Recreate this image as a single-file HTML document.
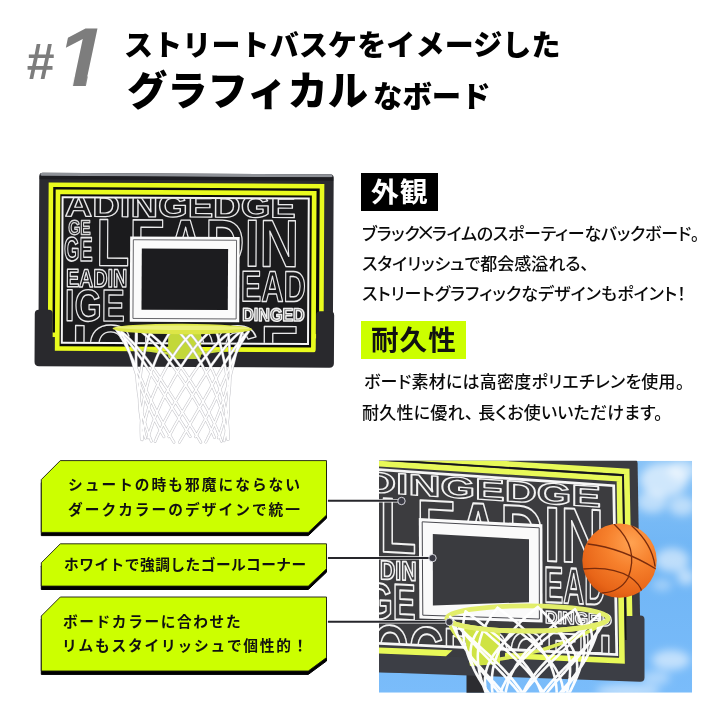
<!DOCTYPE html>
<html lang="ja">
<head>
<meta charset="utf-8">
<title>#1 ストリートバスケをイメージしたグラフィカルなボード</title>
<style>
html,body{margin:0;padding:0;background:#fff;}
body{width:720px;height:720px;position:relative;overflow:hidden;font-family:"Liberation Sans","Noto Sans CJK JP",sans-serif;color:#111;}
.abs{will-change:transform;position:absolute;white-space:nowrap;line-height:1;}
#gfx{will-change:transform;position:absolute;left:0;top:0;width:720px;height:720px;}
.num{font-family:"Liberation Sans",sans-serif;font-weight:700;font-style:italic;color:#7d7d7d;}
.h1{font-weight:900;color:#000;}
.tag{font-weight:700;font-size:27px;letter-spacing:1px;}
.body{font-weight:500;font-size:17px;color:#0a0a0a;font-feature-settings:"palt";}
.cj{font-family:"Noto Sans CJK JP",sans-serif;}
.lab{font-weight:700;font-size:14.7px;color:#111;letter-spacing:1.4px;}
</style>
</head>
<body>
<svg id="gfx" viewBox="0 0 720 720" width="720" height="720">
<defs><clipPath id="panelclip"><rect x="63.2" y="198.3" width="244.2" height="144.1"/></clipPath><clipPath id="photoclip"><rect x="379.0" y="460.8" width="313.1" height="231.90000000000003"/></clipPath><linearGradient id="sky" x1="0" y1="0" x2="0" y2="1"><stop offset="0" stop-color="#86c2f7"/><stop offset="0.4" stop-color="#6fb5f5"/><stop offset="1" stop-color="#7abcfa"/></linearGradient><radialGradient id="ball" cx="0.66" cy="0.26" r="0.85"><stop offset="0" stop-color="#ffa251"/><stop offset="0.4" stop-color="#f6802c"/><stop offset="0.8" stop-color="#e86518"/><stop offset="1" stop-color="#cf4f0c"/></radialGradient><filter id="blur3" x="-30%" y="-30%" width="160%" height="160%"><feGaussianBlur stdDeviation="4"/></filter><clipPath id="ballclip"><circle cx="619.5" cy="560.6" r="37.2"/></clipPath><clipPath id="pboard"><polygon points="379,471 612.5,486.5 616.5,654.5 379,643.5"/></clipPath></defs>
<g id="board" transform="rotate(0.3 186 270)">
<rect x="38.8" y="173.6" width="294.4" height="185" rx="3.5" fill="#2b2b30"/>
<rect x="40" y="173.6" width="292" height="3.2" rx="1.6" fill="#8f9298"/>
<rect x="39.2" y="176.6" width="293.6" height="3.5" fill="#1d1d21"/>
<rect x="50.5" y="185.5" width="271.1" height="150" fill="#0b0b0c" stroke="#e9fb1e" stroke-width="4.6"/>
<rect x="57.6" y="192.6" width="256.2" height="156.6" fill="#0b0b0c" stroke="#e9fb1e" stroke-width="4.7"/>
<rect x="62.2" y="197.8" width="246.2" height="145.6" fill="#1b1b1d" stroke="#f4f4f4" stroke-width="2"/>
<g clip-path="url(#panelclip)" font-family="'Liberation Sans',sans-serif" font-weight="700" stroke-linejoin="round">
<text transform="translate(64.50,217.00) scale(1.1929,1)" font-size="31.98" fill="none" stroke="#e9e9ea" stroke-width="1.3" vector-effect="non-scaling-stroke" >ADINGEDGE</text>
<text transform="translate(68.00,235.00) scale(0.7652,1)" font-size="20.35" fill="none" stroke="#d8d8d8" stroke-width="1.3" vector-effect="non-scaling-stroke" >GE</text>
<text transform="translate(96.00,266.00) scale(0.8157,1)" font-size="66.86" fill="none" stroke="#e9e9ea" stroke-width="1.3" vector-effect="non-scaling-stroke" >LEADIN</text>
<text transform="translate(64.00,261.50) scale(0.5774,1)" font-size="34.16" fill="none" stroke="#e9e9ea" stroke-width="1.3" vector-effect="non-scaling-stroke" >GE</text>
<text transform="translate(66.00,287.50) scale(0.7772,1)" font-size="25.44" fill="none" stroke="#e9e9ea" stroke-width="1.3" vector-effect="non-scaling-stroke" >EADIN</text>
<text transform="translate(241.00,301.00) scale(0.7061,1)" font-size="43.60" fill="none" stroke="#e9e9ea" stroke-width="1.3" vector-effect="non-scaling-stroke" >EAD</text>
<text transform="translate(65.00,321.50) scale(0.7728,1)" font-size="45.06" fill="none" stroke="#e9e9ea" stroke-width="1.3" vector-effect="non-scaling-stroke" >IGE</text>
<text transform="translate(242.50,320.50) scale(0.8845,1)" font-size="18.17" fill="#555" stroke="#f0f0f0" stroke-width="1.5" vector-effect="non-scaling-stroke" >DINGED</text>
<text transform="translate(72.00,368.00) scale(0.9601,1)" font-size="61.05" fill="none" stroke="#e9e9ea" stroke-width="1.3" vector-effect="non-scaling-stroke" >IGEDGE</text>
</g>
<rect x="130" y="236.7" width="109.5" height="85.3" fill="#fbfbfb"/>
<rect x="133.2" y="240" width="103.2" height="78.7" fill="none" stroke="#55555a" stroke-width="0.9"/>
<rect x="141.7" y="248.8" width="86.3" height="61.1" fill="#1c1c1f"/>
<path d="M35 314.5 q0 -4 4 -4 h10 q4 0 4 4 v33.7 q0 4 4 4 h255.4 q4 0 4 -4 v-33.7 q0 -4 4 -4 h10 q4 0 4 4 v48 q0 4.5 -4.5 4.5 h-290.4 q-4.5 0 -4.5 -4.5 z" fill="#29292d"/>
</g>
<g transform="rotate(0.3 186 270)">
<path d="M168.5 331 h33 v24 q0 4 -4 4 h-25 q-4 0 -4 -4 z" fill="#c3d83a"/>
<path d="M172 354 L142 349.5 M197 354 L226 349.5" stroke="#cfe23c" stroke-width="2.6" fill="none"/>
<path d="M248.8 331.2 L246.1 334.0 L243.6 336.9 L241.2 339.7 L238.9 342.6 L236.8 345.4 L234.7 348.3 L232.8 351.1 L230.9 353.9 L229.1 356.8 L227.3 359.6 L225.6 362.4 L223.9 365.2 L222.3 368.0 L220.7 370.8 L219.1 373.7 L217.6 376.5 L216.0 379.3 L214.5 382.0 L212.9 384.8 L211.4 387.6 L209.9 390.4 L208.3 393.2 L206.8 395.9 L205.3 398.7 L203.7 401.5 L202.2 404.2 L200.6 407.0 L199.1 409.7 L197.5 412.5 L195.9 415.2 L194.4 417.9 L192.8 420.7 L191.2 423.4 L189.6 426.1 L188.1 428.8 L186.5 431.6 L184.9 434.3 L183.4 437.0 L181.8 439.7 L180.3 442.4 M248.8 331.2 L247.0 333.8 L245.3 336.4 L243.8 338.9 L242.2 341.5 L240.8 344.1 L239.4 346.7 L238.1 349.3 L236.9 351.9 L235.7 354.5 L234.5 357.1 L233.3 359.7 L232.2 362.3 L231.1 364.9 L229.9 367.5 L228.8 370.1 L227.7 372.8 L226.6 375.4 L225.5 378.0 L224.4 380.6 L223.3 383.3 L222.1 385.9 L221.0 388.5 L219.8 391.2 L218.6 393.8 L217.4 396.5 L216.1 399.1 L214.9 401.8 L213.6 404.4 L212.3 407.1 L210.9 409.8 L209.6 412.4 L208.2 415.1 L206.8 417.8 L205.4 420.5 L203.9 423.2 L202.5 425.9 L201.0 428.6 L199.5 431.3 L198.0 434.0 L196.5 436.7 M228.8 333.1 L225.4 335.9 L222.3 338.7 L219.4 341.5 L216.6 344.3 L214.0 347.1 L211.5 349.9 L209.1 352.6 L206.9 355.4 L204.7 358.2 L202.6 360.9 L200.5 363.7 L198.5 366.4 L196.6 369.2 L194.7 371.9 L192.9 374.6 L191.1 377.4 L189.3 380.1 L187.6 382.8 L185.9 385.5 L184.2 388.2 L182.5 390.9 L180.9 393.6 L179.3 396.3 L177.7 399.0 L176.1 401.7 L174.6 404.4 L173.1 407.1 L171.6 409.8 L170.1 412.4 L168.7 415.1 L167.3 417.8 L165.9 420.4 L164.5 423.1 L163.2 425.7 L161.9 428.4 L160.6 431.0 L159.4 433.7 L158.2 436.3 L157.1 439.0 L156.0 441.6 M228.8 333.1 L229.0 335.7 L229.2 338.4 L229.4 341.0 L229.6 343.6 L229.8 346.2 L229.9 348.8 L230.1 351.4 L230.2 354.0 L230.3 356.6 L230.4 359.2 L230.5 361.8 L230.6 364.4 L230.7 367.0 L230.7 369.6 L230.7 372.2 L230.7 374.8 L230.7 377.4 L230.6 380.0 L230.5 382.6 L230.4 385.2 L230.2 387.8 L230.0 390.4 L229.8 393.0 L229.5 395.6 L229.2 398.2 L228.9 400.8 L228.5 403.5 L228.0 406.1 L227.5 408.7 L227.0 411.3 L226.4 413.9 L225.8 416.6 L225.1 419.2 L224.4 421.8 L223.6 424.4 L222.8 427.1 L222.0 429.7 L221.1 432.4 L220.2 435.0 L219.2 437.7 M191.1 334.1 L188.5 336.8 L186.0 339.5 L183.7 342.2 L181.5 344.9 L179.4 347.6 L177.5 350.3 L175.6 353.0 L173.9 355.7 L172.2 358.4 L170.5 361.1 L169.0 363.7 L167.5 366.4 L166.0 369.1 L164.6 371.7 L163.2 374.4 L161.9 377.0 L160.6 379.7 L159.4 382.3 L158.2 385.0 L157.0 387.6 L155.9 390.3 L154.8 392.9 L153.7 395.5 L152.7 398.2 L151.8 400.8 L150.9 403.4 L150.0 406.0 L149.1 408.7 L148.4 411.3 L147.6 413.9 L146.9 416.5 L146.3 419.1 L145.7 421.7 L145.2 424.4 L144.7 427.0 L144.2 429.6 L143.8 432.2 L143.5 434.8 L143.2 437.4 L143.0 440.0 M191.1 334.1 L193.3 336.8 L195.4 339.4 L197.4 342.1 L199.2 344.8 L200.9 347.5 L202.6 350.1 L204.1 352.8 L205.6 355.4 L207.1 358.1 L208.5 360.7 L209.8 363.4 L211.1 366.0 L212.3 368.7 L213.5 371.3 L214.7 373.9 L215.8 376.6 L216.9 379.2 L217.9 381.8 L218.9 384.4 L219.9 387.1 L220.8 389.7 L221.7 392.3 L222.5 394.9 L223.3 397.5 L224.0 400.1 L224.7 402.8 L225.3 405.4 L225.9 408.0 L226.5 410.6 L227.0 413.2 L227.4 415.8 L227.8 418.4 L228.2 421.0 L228.5 423.6 L228.7 426.2 L228.9 428.9 L229.0 431.5 L229.1 434.1 L229.1 436.7 L229.1 439.3 M150.3 333.7 L149.3 336.3 L148.5 338.9 L147.7 341.6 L147.0 344.2 L146.3 346.8 L145.6 349.5 L145.0 352.1 L144.5 354.7 L143.9 357.3 L143.4 359.9 L143.0 362.5 L142.5 365.2 L142.1 367.8 L141.7 370.4 L141.4 373.0 L141.1 375.6 L140.8 378.2 L140.6 380.8 L140.3 383.4 L140.2 386.0 L140.0 388.6 L140.0 391.2 L139.9 393.8 L139.9 396.4 L139.9 399.0 L140.0 401.6 L140.1 404.2 L140.3 406.8 L140.6 409.4 L140.8 412.1 L141.2 414.7 L141.5 417.3 L142.0 419.9 L142.4 422.5 L143.0 425.1 L143.5 427.8 L144.2 430.4 L144.9 433.0 L145.6 435.6 L146.4 438.3 M150.3 333.7 L153.6 336.4 L156.8 339.2 L159.8 342.0 L162.6 344.7 L165.2 347.5 L167.8 350.2 L170.2 353.0 L172.5 355.7 L174.8 358.4 L176.9 361.1 L179.0 363.9 L181.1 366.6 L183.1 369.3 L185.0 372.0 L186.9 374.7 L188.7 377.4 L190.5 380.1 L192.3 382.8 L194.0 385.5 L195.7 388.1 L197.4 390.8 L199.0 393.5 L200.6 396.2 L202.2 398.8 L203.7 401.5 L205.2 404.1 L206.7 406.8 L208.2 409.4 L209.6 412.1 L210.9 414.7 L212.3 417.4 L213.6 420.0 L214.8 422.6 L216.0 425.3 L217.2 427.9 L218.3 430.5 L219.4 433.2 L220.5 435.8 L221.4 438.4 L222.4 441.0 M121.8 332.0 L123.0 334.6 L124.1 337.2 L125.2 339.8 L126.2 342.4 L127.2 345.0 L128.1 347.6 L129.0 350.2 L129.9 352.8 L130.8 355.4 L131.6 358.0 L132.5 360.6 L133.3 363.2 L134.1 365.8 L134.9 368.4 L135.8 371.0 L136.6 373.6 L137.5 376.2 L138.4 378.8 L139.3 381.4 L140.2 384.0 L141.1 386.6 L142.1 389.2 L143.1 391.9 L144.1 394.5 L145.1 397.1 L146.2 399.7 L147.3 402.4 L148.5 405.0 L149.7 407.7 L150.9 410.3 L152.1 412.9 L153.4 415.6 L154.7 418.3 L156.1 420.9 L157.4 423.6 L158.9 426.3 L160.3 428.9 L161.8 431.6 L163.3 434.3 L164.8 437.0 M121.8 332.0 L125.1 334.9 L128.1 337.7 L131.0 340.5 L133.8 343.4 L136.4 346.2 L138.9 349.0 L141.2 351.8 L143.5 354.6 L145.7 357.4 L147.9 360.2 L150.0 363.0 L152.0 365.8 L154.0 368.6 L156.0 371.4 L157.9 374.2 L159.8 377.0 L161.6 379.7 L163.5 382.5 L165.3 385.3 L167.2 388.0 L169.0 390.8 L170.8 393.5 L172.6 396.3 L174.4 399.0 L176.1 401.7 L177.9 404.4 L179.7 407.2 L181.4 409.9 L183.2 412.6 L184.9 415.3 L186.7 418.0 L188.4 420.7 L190.1 423.4 L191.8 426.1 L193.5 428.8 L195.2 431.5 L196.8 434.2 L198.5 436.8 L200.1 439.5 L201.7 442.2 M116.6 329.8 L119.4 332.4 L122.1 335.0 L124.7 337.6 L127.1 340.2 L129.4 342.8 L131.6 345.4 L133.7 348.1 L135.7 350.7 L137.7 353.3 L139.6 355.9 L141.5 358.5 L143.3 361.2 L145.0 363.8 L146.8 366.5 L148.5 369.1 L150.2 371.7 L151.9 374.4 L153.6 377.1 L155.3 379.7 L157.0 382.4 L158.7 385.0 L160.4 387.7 L162.0 390.4 L163.7 393.1 L165.4 395.8 L167.1 398.5 L168.8 401.2 L170.5 403.9 L172.2 406.6 L174.0 409.3 L175.7 412.0 L177.4 414.7 L179.1 417.4 L180.9 420.2 L182.6 422.9 L184.3 425.6 L186.0 428.4 L187.7 431.1 L189.4 433.9 L191.1 436.6 M116.6 329.8 L118.5 332.7 L120.4 335.5 L122.1 338.4 L123.8 341.3 L125.3 344.1 L126.9 347.0 L128.3 349.8 L129.7 352.7 L131.1 355.5 L132.4 358.4 L133.7 361.2 L135.0 364.1 L136.3 366.9 L137.6 369.8 L138.8 372.6 L140.1 375.4 L141.3 378.3 L142.6 381.1 L143.8 383.9 L145.1 386.7 L146.4 389.6 L147.7 392.4 L149.1 395.2 L150.4 398.0 L151.8 400.8 L153.2 403.6 L154.6 406.4 L156.0 409.2 L157.5 411.9 L159.0 414.7 L160.5 417.5 L162.0 420.3 L163.5 423.0 L165.1 425.8 L166.7 428.6 L168.3 431.3 L169.9 434.1 L171.6 436.8 L173.2 439.6 L174.9 442.3 M136.6 327.9 L140.1 330.5 L143.4 333.2 L146.5 335.8 L149.4 338.5 L152.1 341.2 L154.8 343.8 L157.3 346.5 L159.7 349.2 L162.1 351.9 L164.3 354.6 L166.5 357.3 L168.7 360.0 L170.7 362.7 L172.8 365.4 L174.8 368.1 L176.7 370.8 L178.6 373.6 L180.5 376.3 L182.4 379.0 L184.2 381.8 L186.0 384.5 L187.8 387.3 L189.6 390.0 L191.3 392.8 L193.0 395.5 L194.7 398.3 L196.4 401.1 L198.0 403.8 L199.6 406.6 L201.2 409.4 L202.8 412.2 L204.3 415.0 L205.8 417.8 L207.3 420.6 L208.8 423.4 L210.2 426.2 L211.5 429.0 L212.9 431.8 L214.2 434.6 L215.4 437.4 M136.6 327.9 L136.5 330.7 L136.5 333.5 L136.4 336.4 L136.4 339.2 L136.4 342.1 L136.4 344.9 L136.4 347.8 L136.4 350.6 L136.4 353.4 L136.5 356.3 L136.5 359.1 L136.6 362.0 L136.7 364.8 L136.8 367.7 L136.9 370.5 L137.1 373.4 L137.3 376.2 L137.5 379.1 L137.7 381.9 L138.0 384.8 L138.3 387.6 L138.7 390.5 L139.0 393.3 L139.5 396.2 L139.9 399.0 L140.4 401.9 L141.0 404.7 L141.6 407.5 L142.2 410.4 L142.9 413.2 L143.6 416.0 L144.4 418.8 L145.2 421.7 L146.1 424.5 L147.0 427.3 L148.0 430.1 L149.0 432.9 L150.0 435.7 L151.1 438.5 L152.2 441.3 M174.3 326.9 L177.1 329.7 L179.7 332.4 L182.2 335.1 L184.5 337.9 L186.7 340.6 L188.8 343.4 L190.8 346.1 L192.7 348.9 L194.6 351.7 L196.4 354.4 L198.1 357.2 L199.7 360.0 L201.4 362.8 L202.9 365.6 L204.4 368.4 L205.9 371.2 L207.3 374.0 L208.7 376.8 L210.1 379.6 L211.4 382.4 L212.7 385.2 L213.9 388.0 L215.1 390.8 L216.3 393.6 L217.4 396.5 L218.4 399.3 L219.5 402.1 L220.5 404.9 L221.4 407.8 L222.3 410.6 L223.1 413.4 L223.9 416.3 L224.7 419.1 L225.3 421.9 L226.0 424.8 L226.6 427.6 L227.1 430.5 L227.6 433.3 L228.0 436.1 L228.4 439.0 M174.3 326.9 L172.2 329.7 L170.3 332.5 L168.5 335.2 L166.8 338.0 L165.2 340.8 L163.7 343.6 L162.3 346.4 L161.0 349.2 L159.7 352.0 L158.4 354.8 L157.2 357.6 L156.1 360.4 L155.0 363.2 L154.0 366.0 L153.0 368.8 L152.0 371.6 L151.1 374.5 L150.2 377.3 L149.3 380.1 L148.5 382.9 L147.8 385.8 L147.0 388.6 L146.4 391.4 L145.7 394.3 L145.1 397.1 L144.6 399.9 L144.1 402.8 L143.7 405.6 L143.3 408.5 L142.9 411.3 L142.6 414.1 L142.4 417.0 L142.2 419.8 L142.0 422.7 L141.9 425.5 L141.9 428.3 L141.9 431.2 L142.0 434.0 L142.1 436.8 L142.3 439.7 M215.1 327.3 L216.2 330.2 L217.2 333.0 L218.2 335.8 L219.0 338.6 L219.9 341.4 L220.7 344.2 L221.4 347.1 L222.1 349.9 L222.8 352.7 L223.5 355.6 L224.1 358.4 L224.7 361.2 L225.2 364.1 L225.8 366.9 L226.3 369.8 L226.7 372.6 L227.1 375.5 L227.5 378.3 L227.9 381.2 L228.2 384.0 L228.5 386.8 L228.7 389.7 L228.9 392.5 L229.1 395.4 L229.2 398.2 L229.3 401.1 L229.3 403.9 L229.3 406.8 L229.2 409.6 L229.1 412.4 L228.9 415.3 L228.7 418.1 L228.4 421.0 L228.1 423.8 L227.7 426.6 L227.3 429.4 L226.8 432.3 L226.2 435.1 L225.6 437.9 L225.0 440.7 M215.1 327.3 L211.9 330.0 L208.9 332.7 L206.1 335.4 L203.4 338.1 L200.9 340.8 L198.5 343.5 L196.2 346.2 L194.1 348.9 L192.0 351.6 L190.0 354.4 L188.0 357.1 L186.1 359.8 L184.3 362.6 L182.5 365.3 L180.8 368.1 L179.1 370.8 L177.4 373.6 L175.8 376.3 L174.2 379.1 L172.7 381.9 L171.2 384.6 L169.7 387.4 L168.2 390.2 L166.8 393.0 L165.4 395.8 L164.1 398.6 L162.7 401.4 L161.4 404.2 L160.2 407.0 L159.0 409.8 L157.8 412.6 L156.6 415.4 L155.5 418.2 L154.5 421.0 L153.4 423.8 L152.5 426.7 L151.5 429.5 L150.6 432.3 L149.8 435.1 L149.0 438.0 M243.6 329.0 L242.6 331.8 L241.6 334.7 L240.7 337.5 L239.8 340.4 L239.0 343.3 L238.2 346.1 L237.4 349.0 L236.7 351.8 L236.0 354.7 L235.3 357.5 L234.6 360.4 L233.9 363.2 L233.2 366.1 L232.6 368.9 L231.9 371.8 L231.2 374.6 L230.5 377.5 L229.7 380.3 L229.0 383.2 L228.2 386.0 L227.4 388.8 L226.6 391.7 L225.8 394.5 L224.9 397.3 L224.0 400.1 L223.1 403.0 L222.1 405.8 L221.1 408.6 L220.1 411.4 L219.0 414.2 L217.9 417.0 L216.8 419.8 L215.6 422.6 L214.4 425.4 L213.2 428.2 L211.9 430.9 L210.7 433.7 L209.3 436.5 L208.0 439.3 L206.6 442.0 M243.6 329.0 L240.5 331.6 L237.6 334.2 L234.8 336.8 L232.2 339.4 L229.8 342.1 L227.4 344.7 L225.2 347.3 L223.1 350.0 L221.0 352.6 L219.0 355.3 L217.1 357.9 L215.2 360.6 L213.3 363.2 L211.5 365.9 L209.8 368.6 L208.0 371.2 L206.3 373.9 L204.6 376.6 L202.9 379.3 L201.2 382.0 L199.6 384.7 L197.9 387.4 L196.3 390.1 L194.6 392.8 L193.0 395.5 L191.4 398.3 L189.8 401.0 L188.2 403.7 L186.5 406.4 L185.0 409.2 L183.4 411.9 L181.8 414.7 L180.2 417.4 L178.7 420.2 L177.1 423.0 L175.6 425.7 L174.1 428.5 L172.6 431.3 L171.2 434.0 L169.7 436.8" fill="none" stroke="#c3c3c8" stroke-width="2.8" stroke-linecap="round" stroke-linejoin="round"/>
<path d="M248.8 331.2 L246.1 334.0 L243.6 336.9 L241.2 339.7 L238.9 342.6 L236.8 345.4 L234.7 348.3 L232.8 351.1 L230.9 353.9 L229.1 356.8 L227.3 359.6 L225.6 362.4 L223.9 365.2 L222.3 368.0 L220.7 370.8 L219.1 373.7 L217.6 376.5 L216.0 379.3 L214.5 382.0 L212.9 384.8 L211.4 387.6 L209.9 390.4 L208.3 393.2 L206.8 395.9 L205.3 398.7 L203.7 401.5 L202.2 404.2 L200.6 407.0 L199.1 409.7 L197.5 412.5 L195.9 415.2 L194.4 417.9 L192.8 420.7 L191.2 423.4 L189.6 426.1 L188.1 428.8 L186.5 431.6 L184.9 434.3 L183.4 437.0 L181.8 439.7 L180.3 442.4 M248.8 331.2 L247.0 333.8 L245.3 336.4 L243.8 338.9 L242.2 341.5 L240.8 344.1 L239.4 346.7 L238.1 349.3 L236.9 351.9 L235.7 354.5 L234.5 357.1 L233.3 359.7 L232.2 362.3 L231.1 364.9 L229.9 367.5 L228.8 370.1 L227.7 372.8 L226.6 375.4 L225.5 378.0 L224.4 380.6 L223.3 383.3 L222.1 385.9 L221.0 388.5 L219.8 391.2 L218.6 393.8 L217.4 396.5 L216.1 399.1 L214.9 401.8 L213.6 404.4 L212.3 407.1 L210.9 409.8 L209.6 412.4 L208.2 415.1 L206.8 417.8 L205.4 420.5 L203.9 423.2 L202.5 425.9 L201.0 428.6 L199.5 431.3 L198.0 434.0 L196.5 436.7 M228.8 333.1 L225.4 335.9 L222.3 338.7 L219.4 341.5 L216.6 344.3 L214.0 347.1 L211.5 349.9 L209.1 352.6 L206.9 355.4 L204.7 358.2 L202.6 360.9 L200.5 363.7 L198.5 366.4 L196.6 369.2 L194.7 371.9 L192.9 374.6 L191.1 377.4 L189.3 380.1 L187.6 382.8 L185.9 385.5 L184.2 388.2 L182.5 390.9 L180.9 393.6 L179.3 396.3 L177.7 399.0 L176.1 401.7 L174.6 404.4 L173.1 407.1 L171.6 409.8 L170.1 412.4 L168.7 415.1 L167.3 417.8 L165.9 420.4 L164.5 423.1 L163.2 425.7 L161.9 428.4 L160.6 431.0 L159.4 433.7 L158.2 436.3 L157.1 439.0 L156.0 441.6 M228.8 333.1 L229.0 335.7 L229.2 338.4 L229.4 341.0 L229.6 343.6 L229.8 346.2 L229.9 348.8 L230.1 351.4 L230.2 354.0 L230.3 356.6 L230.4 359.2 L230.5 361.8 L230.6 364.4 L230.7 367.0 L230.7 369.6 L230.7 372.2 L230.7 374.8 L230.7 377.4 L230.6 380.0 L230.5 382.6 L230.4 385.2 L230.2 387.8 L230.0 390.4 L229.8 393.0 L229.5 395.6 L229.2 398.2 L228.9 400.8 L228.5 403.5 L228.0 406.1 L227.5 408.7 L227.0 411.3 L226.4 413.9 L225.8 416.6 L225.1 419.2 L224.4 421.8 L223.6 424.4 L222.8 427.1 L222.0 429.7 L221.1 432.4 L220.2 435.0 L219.2 437.7 M191.1 334.1 L188.5 336.8 L186.0 339.5 L183.7 342.2 L181.5 344.9 L179.4 347.6 L177.5 350.3 L175.6 353.0 L173.9 355.7 L172.2 358.4 L170.5 361.1 L169.0 363.7 L167.5 366.4 L166.0 369.1 L164.6 371.7 L163.2 374.4 L161.9 377.0 L160.6 379.7 L159.4 382.3 L158.2 385.0 L157.0 387.6 L155.9 390.3 L154.8 392.9 L153.7 395.5 L152.7 398.2 L151.8 400.8 L150.9 403.4 L150.0 406.0 L149.1 408.7 L148.4 411.3 L147.6 413.9 L146.9 416.5 L146.3 419.1 L145.7 421.7 L145.2 424.4 L144.7 427.0 L144.2 429.6 L143.8 432.2 L143.5 434.8 L143.2 437.4 L143.0 440.0 M191.1 334.1 L193.3 336.8 L195.4 339.4 L197.4 342.1 L199.2 344.8 L200.9 347.5 L202.6 350.1 L204.1 352.8 L205.6 355.4 L207.1 358.1 L208.5 360.7 L209.8 363.4 L211.1 366.0 L212.3 368.7 L213.5 371.3 L214.7 373.9 L215.8 376.6 L216.9 379.2 L217.9 381.8 L218.9 384.4 L219.9 387.1 L220.8 389.7 L221.7 392.3 L222.5 394.9 L223.3 397.5 L224.0 400.1 L224.7 402.8 L225.3 405.4 L225.9 408.0 L226.5 410.6 L227.0 413.2 L227.4 415.8 L227.8 418.4 L228.2 421.0 L228.5 423.6 L228.7 426.2 L228.9 428.9 L229.0 431.5 L229.1 434.1 L229.1 436.7 L229.1 439.3 M150.3 333.7 L149.3 336.3 L148.5 338.9 L147.7 341.6 L147.0 344.2 L146.3 346.8 L145.6 349.5 L145.0 352.1 L144.5 354.7 L143.9 357.3 L143.4 359.9 L143.0 362.5 L142.5 365.2 L142.1 367.8 L141.7 370.4 L141.4 373.0 L141.1 375.6 L140.8 378.2 L140.6 380.8 L140.3 383.4 L140.2 386.0 L140.0 388.6 L140.0 391.2 L139.9 393.8 L139.9 396.4 L139.9 399.0 L140.0 401.6 L140.1 404.2 L140.3 406.8 L140.6 409.4 L140.8 412.1 L141.2 414.7 L141.5 417.3 L142.0 419.9 L142.4 422.5 L143.0 425.1 L143.5 427.8 L144.2 430.4 L144.9 433.0 L145.6 435.6 L146.4 438.3 M150.3 333.7 L153.6 336.4 L156.8 339.2 L159.8 342.0 L162.6 344.7 L165.2 347.5 L167.8 350.2 L170.2 353.0 L172.5 355.7 L174.8 358.4 L176.9 361.1 L179.0 363.9 L181.1 366.6 L183.1 369.3 L185.0 372.0 L186.9 374.7 L188.7 377.4 L190.5 380.1 L192.3 382.8 L194.0 385.5 L195.7 388.1 L197.4 390.8 L199.0 393.5 L200.6 396.2 L202.2 398.8 L203.7 401.5 L205.2 404.1 L206.7 406.8 L208.2 409.4 L209.6 412.1 L210.9 414.7 L212.3 417.4 L213.6 420.0 L214.8 422.6 L216.0 425.3 L217.2 427.9 L218.3 430.5 L219.4 433.2 L220.5 435.8 L221.4 438.4 L222.4 441.0 M121.8 332.0 L123.0 334.6 L124.1 337.2 L125.2 339.8 L126.2 342.4 L127.2 345.0 L128.1 347.6 L129.0 350.2 L129.9 352.8 L130.8 355.4 L131.6 358.0 L132.5 360.6 L133.3 363.2 L134.1 365.8 L134.9 368.4 L135.8 371.0 L136.6 373.6 L137.5 376.2 L138.4 378.8 L139.3 381.4 L140.2 384.0 L141.1 386.6 L142.1 389.2 L143.1 391.9 L144.1 394.5 L145.1 397.1 L146.2 399.7 L147.3 402.4 L148.5 405.0 L149.7 407.7 L150.9 410.3 L152.1 412.9 L153.4 415.6 L154.7 418.3 L156.1 420.9 L157.4 423.6 L158.9 426.3 L160.3 428.9 L161.8 431.6 L163.3 434.3 L164.8 437.0 M121.8 332.0 L125.1 334.9 L128.1 337.7 L131.0 340.5 L133.8 343.4 L136.4 346.2 L138.9 349.0 L141.2 351.8 L143.5 354.6 L145.7 357.4 L147.9 360.2 L150.0 363.0 L152.0 365.8 L154.0 368.6 L156.0 371.4 L157.9 374.2 L159.8 377.0 L161.6 379.7 L163.5 382.5 L165.3 385.3 L167.2 388.0 L169.0 390.8 L170.8 393.5 L172.6 396.3 L174.4 399.0 L176.1 401.7 L177.9 404.4 L179.7 407.2 L181.4 409.9 L183.2 412.6 L184.9 415.3 L186.7 418.0 L188.4 420.7 L190.1 423.4 L191.8 426.1 L193.5 428.8 L195.2 431.5 L196.8 434.2 L198.5 436.8 L200.1 439.5 L201.7 442.2 M116.6 329.8 L119.4 332.4 L122.1 335.0 L124.7 337.6 L127.1 340.2 L129.4 342.8 L131.6 345.4 L133.7 348.1 L135.7 350.7 L137.7 353.3 L139.6 355.9 L141.5 358.5 L143.3 361.2 L145.0 363.8 L146.8 366.5 L148.5 369.1 L150.2 371.7 L151.9 374.4 L153.6 377.1 L155.3 379.7 L157.0 382.4 L158.7 385.0 L160.4 387.7 L162.0 390.4 L163.7 393.1 L165.4 395.8 L167.1 398.5 L168.8 401.2 L170.5 403.9 L172.2 406.6 L174.0 409.3 L175.7 412.0 L177.4 414.7 L179.1 417.4 L180.9 420.2 L182.6 422.9 L184.3 425.6 L186.0 428.4 L187.7 431.1 L189.4 433.9 L191.1 436.6 M116.6 329.8 L118.5 332.7 L120.4 335.5 L122.1 338.4 L123.8 341.3 L125.3 344.1 L126.9 347.0 L128.3 349.8 L129.7 352.7 L131.1 355.5 L132.4 358.4 L133.7 361.2 L135.0 364.1 L136.3 366.9 L137.6 369.8 L138.8 372.6 L140.1 375.4 L141.3 378.3 L142.6 381.1 L143.8 383.9 L145.1 386.7 L146.4 389.6 L147.7 392.4 L149.1 395.2 L150.4 398.0 L151.8 400.8 L153.2 403.6 L154.6 406.4 L156.0 409.2 L157.5 411.9 L159.0 414.7 L160.5 417.5 L162.0 420.3 L163.5 423.0 L165.1 425.8 L166.7 428.6 L168.3 431.3 L169.9 434.1 L171.6 436.8 L173.2 439.6 L174.9 442.3 M136.6 327.9 L140.1 330.5 L143.4 333.2 L146.5 335.8 L149.4 338.5 L152.1 341.2 L154.8 343.8 L157.3 346.5 L159.7 349.2 L162.1 351.9 L164.3 354.6 L166.5 357.3 L168.7 360.0 L170.7 362.7 L172.8 365.4 L174.8 368.1 L176.7 370.8 L178.6 373.6 L180.5 376.3 L182.4 379.0 L184.2 381.8 L186.0 384.5 L187.8 387.3 L189.6 390.0 L191.3 392.8 L193.0 395.5 L194.7 398.3 L196.4 401.1 L198.0 403.8 L199.6 406.6 L201.2 409.4 L202.8 412.2 L204.3 415.0 L205.8 417.8 L207.3 420.6 L208.8 423.4 L210.2 426.2 L211.5 429.0 L212.9 431.8 L214.2 434.6 L215.4 437.4 M136.6 327.9 L136.5 330.7 L136.5 333.5 L136.4 336.4 L136.4 339.2 L136.4 342.1 L136.4 344.9 L136.4 347.8 L136.4 350.6 L136.4 353.4 L136.5 356.3 L136.5 359.1 L136.6 362.0 L136.7 364.8 L136.8 367.7 L136.9 370.5 L137.1 373.4 L137.3 376.2 L137.5 379.1 L137.7 381.9 L138.0 384.8 L138.3 387.6 L138.7 390.5 L139.0 393.3 L139.5 396.2 L139.9 399.0 L140.4 401.9 L141.0 404.7 L141.6 407.5 L142.2 410.4 L142.9 413.2 L143.6 416.0 L144.4 418.8 L145.2 421.7 L146.1 424.5 L147.0 427.3 L148.0 430.1 L149.0 432.9 L150.0 435.7 L151.1 438.5 L152.2 441.3 M174.3 326.9 L177.1 329.7 L179.7 332.4 L182.2 335.1 L184.5 337.9 L186.7 340.6 L188.8 343.4 L190.8 346.1 L192.7 348.9 L194.6 351.7 L196.4 354.4 L198.1 357.2 L199.7 360.0 L201.4 362.8 L202.9 365.6 L204.4 368.4 L205.9 371.2 L207.3 374.0 L208.7 376.8 L210.1 379.6 L211.4 382.4 L212.7 385.2 L213.9 388.0 L215.1 390.8 L216.3 393.6 L217.4 396.5 L218.4 399.3 L219.5 402.1 L220.5 404.9 L221.4 407.8 L222.3 410.6 L223.1 413.4 L223.9 416.3 L224.7 419.1 L225.3 421.9 L226.0 424.8 L226.6 427.6 L227.1 430.5 L227.6 433.3 L228.0 436.1 L228.4 439.0 M174.3 326.9 L172.2 329.7 L170.3 332.5 L168.5 335.2 L166.8 338.0 L165.2 340.8 L163.7 343.6 L162.3 346.4 L161.0 349.2 L159.7 352.0 L158.4 354.8 L157.2 357.6 L156.1 360.4 L155.0 363.2 L154.0 366.0 L153.0 368.8 L152.0 371.6 L151.1 374.5 L150.2 377.3 L149.3 380.1 L148.5 382.9 L147.8 385.8 L147.0 388.6 L146.4 391.4 L145.7 394.3 L145.1 397.1 L144.6 399.9 L144.1 402.8 L143.7 405.6 L143.3 408.5 L142.9 411.3 L142.6 414.1 L142.4 417.0 L142.2 419.8 L142.0 422.7 L141.9 425.5 L141.9 428.3 L141.9 431.2 L142.0 434.0 L142.1 436.8 L142.3 439.7 M215.1 327.3 L216.2 330.2 L217.2 333.0 L218.2 335.8 L219.0 338.6 L219.9 341.4 L220.7 344.2 L221.4 347.1 L222.1 349.9 L222.8 352.7 L223.5 355.6 L224.1 358.4 L224.7 361.2 L225.2 364.1 L225.8 366.9 L226.3 369.8 L226.7 372.6 L227.1 375.5 L227.5 378.3 L227.9 381.2 L228.2 384.0 L228.5 386.8 L228.7 389.7 L228.9 392.5 L229.1 395.4 L229.2 398.2 L229.3 401.1 L229.3 403.9 L229.3 406.8 L229.2 409.6 L229.1 412.4 L228.9 415.3 L228.7 418.1 L228.4 421.0 L228.1 423.8 L227.7 426.6 L227.3 429.4 L226.8 432.3 L226.2 435.1 L225.6 437.9 L225.0 440.7 M215.1 327.3 L211.9 330.0 L208.9 332.7 L206.1 335.4 L203.4 338.1 L200.9 340.8 L198.5 343.5 L196.2 346.2 L194.1 348.9 L192.0 351.6 L190.0 354.4 L188.0 357.1 L186.1 359.8 L184.3 362.6 L182.5 365.3 L180.8 368.1 L179.1 370.8 L177.4 373.6 L175.8 376.3 L174.2 379.1 L172.7 381.9 L171.2 384.6 L169.7 387.4 L168.2 390.2 L166.8 393.0 L165.4 395.8 L164.1 398.6 L162.7 401.4 L161.4 404.2 L160.2 407.0 L159.0 409.8 L157.8 412.6 L156.6 415.4 L155.5 418.2 L154.5 421.0 L153.4 423.8 L152.5 426.7 L151.5 429.5 L150.6 432.3 L149.8 435.1 L149.0 438.0 M243.6 329.0 L242.6 331.8 L241.6 334.7 L240.7 337.5 L239.8 340.4 L239.0 343.3 L238.2 346.1 L237.4 349.0 L236.7 351.8 L236.0 354.7 L235.3 357.5 L234.6 360.4 L233.9 363.2 L233.2 366.1 L232.6 368.9 L231.9 371.8 L231.2 374.6 L230.5 377.5 L229.7 380.3 L229.0 383.2 L228.2 386.0 L227.4 388.8 L226.6 391.7 L225.8 394.5 L224.9 397.3 L224.0 400.1 L223.1 403.0 L222.1 405.8 L221.1 408.6 L220.1 411.4 L219.0 414.2 L217.9 417.0 L216.8 419.8 L215.6 422.6 L214.4 425.4 L213.2 428.2 L211.9 430.9 L210.7 433.7 L209.3 436.5 L208.0 439.3 L206.6 442.0 M243.6 329.0 L240.5 331.6 L237.6 334.2 L234.8 336.8 L232.2 339.4 L229.8 342.1 L227.4 344.7 L225.2 347.3 L223.1 350.0 L221.0 352.6 L219.0 355.3 L217.1 357.9 L215.2 360.6 L213.3 363.2 L211.5 365.9 L209.8 368.6 L208.0 371.2 L206.3 373.9 L204.6 376.6 L202.9 379.3 L201.2 382.0 L199.6 384.7 L197.9 387.4 L196.3 390.1 L194.6 392.8 L193.0 395.5 L191.4 398.3 L189.8 401.0 L188.2 403.7 L186.5 406.4 L185.0 409.2 L183.4 411.9 L181.8 414.7 L180.2 417.4 L178.7 420.2 L177.1 423.0 L175.6 425.7 L174.1 428.5 L172.6 431.3 L171.2 434.0 L169.7 436.8" fill="none" stroke="#ffffff" stroke-width="1.75" stroke-linecap="round" stroke-linejoin="round"/>
<ellipse cx="182.7" cy="329.0" rx="69.8" ry="5.3" fill="#dde647"/>
<ellipse cx="182.7" cy="327.8" rx="66.8" ry="2.3" fill="#eaf07a"/>
</g>
<g clip-path="url(#photoclip)">
<rect x="379.0" y="460.8" width="313.1" height="231.90000000000003" fill="url(#sky)"/>
<g filter="url(#blur3)" fill="#ffffff">
<ellipse cx="664" cy="480" rx="24" ry="17" opacity="0.62"/>
<ellipse cx="682" cy="470" rx="14" ry="10" opacity="0.55"/>
<ellipse cx="652" cy="502" rx="15" ry="11" opacity="0.5"/>
<ellipse cx="682" cy="506" rx="13" ry="10" opacity="0.5"/>
<ellipse cx="672" cy="560" rx="17" ry="12" opacity="0.55"/>
<ellipse cx="686" cy="577" rx="9" ry="8" opacity="0.55"/>
<ellipse cx="662" cy="585" rx="10" ry="6" opacity="0.35"/>
<ellipse cx="671" cy="660" rx="19" ry="10" opacity="0.55"/>
<ellipse cx="656" cy="678" rx="14" ry="7" opacity="0.4"/>
<ellipse cx="628" cy="691" rx="32" ry="7" opacity="0.5"/>
</g>
<rect x="466.5" y="668" width="18" height="30" fill="#2c2c30"/>
<path d="M370 440 L633 458.5 Q637.5 459 637.6 463.5 L640 614 L640.5 676 L379 672.3 L370 672 Z" fill="#3b3c41"/>
<path d="M626 619.5 q0 -4 4 -4 h10.5 q4 0 4 4 v58 q0 4.5 -4.5 4.3 L379 672.3 L379 654 L612 663 q14 0 14 -10 z" fill="#3c3e45"/>
<path d="M370 455.3 L626.7 471.4 L629.6 616" fill="none" stroke="#e8f958" stroke-width="5.6" stroke-linejoin="miter"/>
<path d="M370 463.1 L619.4 478.8 L622 660.8 L505 655.6" fill="none" stroke="#e8f958" stroke-width="5.6" stroke-linejoin="miter"/>
<polygon points="379,647.4 452.5,650.2 446,656.3 379,653.6" fill="#e8f958"/>
<path d="M370 459.2 L623 475.1 L625.8 640" fill="none" stroke="#141416" stroke-width="1.6"/>
<path d="M370 469.1 L613.7 485.7 L616.8 654.6 L379 643.4" fill="#3c3c3f" stroke="#f6f6f6" stroke-width="2.8" stroke-linejoin="miter"/>
<g clip-path="url(#pboard)" font-family="'Liberation Sans',sans-serif" font-weight="700" stroke-linejoin="round">
<text transform="translate(364.00,491.80) skewY(3.7) scale(1.4985,1)" font-size="29.65" fill="none" stroke="#f2f2f2" stroke-width="1.7" vector-effect="non-scaling-stroke">DINGEDGE</text>
<text transform="translate(379.50,551.50) skewY(3.2) scale(0.7757,1)" font-size="77.76" fill="none" stroke="#f2f2f2" stroke-width="1.7" vector-effect="non-scaling-stroke">LEADIN</text>
<text transform="translate(380.00,579.00) skewY(2.8) scale(0.7883,1)" font-size="26.89" fill="none" stroke="#f2f2f2" stroke-width="1.6" vector-effect="non-scaling-stroke">DIN</text>
<text transform="translate(544.00,602.00) skewY(2.8) scale(0.5680,1)" font-size="50.87" fill="none" stroke="#f2f2f2" stroke-width="1.7" vector-effect="non-scaling-stroke">EAD</text>
<text transform="translate(366.00,618.00) skewY(2.8) scale(0.6734,1)" font-size="50.87" fill="none" stroke="#f2f2f2" stroke-width="1.7" vector-effect="non-scaling-stroke">GE</text>
<text transform="translate(545.00,623.00) skewY(2.8) scale(0.9877,1)" font-size="17.44" fill="none" stroke="#f2f2f2" stroke-width="1.4" vector-effect="non-scaling-stroke">DINGED</text>
<text transform="translate(372.00,670.00) skewY(2.6) scale(0.7257,1)" font-size="65.41" fill="none" stroke="#f2f2f2" stroke-width="1.7" vector-effect="non-scaling-stroke">OCEDGEH</text>
</g>
<polygon points="418.8,518 542.4,524.3 542.6,622.5 419.4,618.6" fill="#fafafa"/>
<polygon points="422.2,521.8 539.2,527.8 539.4,619 422.8,615.2" fill="none" stroke="#4a4a50" stroke-width="1"/>
<polygon points="432.8,534 529,539.3 529,602.2 432.9,605.5" fill="#3a3b3f"/>
<path d="M463 628 L500 630 L500 664 L470 666 Z" fill="#cfe343"/>
<path d="M497 659.5 Q560 650 604 623" stroke="#dcec5a" stroke-width="3.6" fill="none"/>
<path d="M448.5 620 Q452 634 464 642" stroke="#dcec5a" stroke-width="3.6" fill="none"/>
<ellipse cx="527.5" cy="618.4" rx="80.5" ry="12.6" fill="none" stroke="#e2ee6a" stroke-width="4.8"/>
<path d="M604.8 619.9 L603.2 622.9 L601.4 625.9 L599.5 628.8 L597.5 631.8 L595.5 634.7 L593.4 637.7 L591.2 640.6 L589.0 643.5 L586.7 646.4 L584.3 649.3 L581.9 652.2 L579.5 655.1 L577.1 657.9 L574.6 660.7 L572.2 663.6 L569.7 666.4 L567.2 669.2 L564.8 672.0 L562.3 674.7 L559.9 677.5 L557.5 680.2 L555.1 682.9 L552.8 685.6 L550.5 688.3 L548.3 691.0 L546.1 693.7 L544.0 696.3 L542.0 698.9 L540.0 701.5 L538.1 704.1 L536.2 706.7 L534.5 709.3 L532.8 711.8 L531.3 714.3 L529.8 716.8 L528.4 719.3 L527.1 721.8 L525.9 724.3 L524.8 726.8 L523.8 729.2 M604.8 619.9 L603.9 622.0 L602.9 624.1 L601.8 626.2 L600.5 628.3 L599.2 630.4 L597.7 632.5 L596.1 634.6 L594.5 636.7 L592.7 638.8 L590.9 640.9 L589.0 643.1 L587.0 645.2 L585.0 647.4 L582.9 649.6 L580.8 651.8 L578.6 653.9 L576.4 656.2 L574.2 658.4 L572.0 660.6 L569.7 662.8 L567.5 665.1 L565.2 667.4 L563.0 669.7 L560.7 672.0 L558.5 674.3 L556.3 676.6 L554.2 678.9 L552.0 681.3 L550.0 683.7 L547.9 686.1 L545.9 688.5 L544.0 690.9 L542.2 693.3 L540.4 695.8 L538.6 698.2 L537.0 700.7 L535.4 703.2 L533.9 705.7 L532.5 708.3 L531.2 710.8 M589.4 625.5 L586.5 628.3 L583.6 631.2 L580.7 634.0 L577.8 636.8 L574.8 639.6 L571.9 642.4 L569.0 645.1 L566.1 647.9 L563.2 650.6 L560.3 653.3 L557.5 656.0 L554.7 658.7 L551.9 661.4 L549.2 664.0 L546.6 666.7 L544.0 669.3 L541.5 671.9 L539.1 674.4 L536.7 677.0 L534.4 679.6 L532.3 682.1 L530.2 684.6 L528.1 687.1 L526.2 689.6 L524.4 692.0 L522.7 694.5 L521.1 696.9 L519.6 699.3 L518.2 701.7 L516.9 704.1 L515.8 706.5 L514.7 708.9 L513.7 711.2 L512.9 713.6 L512.2 715.9 L511.6 718.2 L511.0 720.5 L510.6 722.8 L510.4 725.1 L510.2 727.4 M589.4 625.5 L590.2 627.6 L590.8 629.7 L591.3 631.9 L591.7 634.0 L591.9 636.1 L592.0 638.2 L591.9 640.3 L591.7 642.4 L591.3 644.5 L590.9 646.7 L590.3 648.8 L589.6 650.9 L588.8 653.0 L587.8 655.1 L586.8 657.2 L585.7 659.3 L584.4 661.4 L583.1 663.6 L581.7 665.7 L580.3 667.8 L578.7 670.0 L577.1 672.1 L575.5 674.3 L573.8 676.5 L572.0 678.6 L570.3 680.8 L568.4 683.0 L566.6 685.2 L564.7 687.4 L562.9 689.7 L561.0 691.9 L559.1 694.2 L557.3 696.4 L555.4 698.7 L553.6 701.0 L551.7 703.3 L550.0 705.6 L548.2 707.9 L546.5 710.3 L544.8 712.6 M557.3 629.1 L554.1 631.8 L550.8 634.4 L547.7 637.0 L544.6 639.6 L541.5 642.2 L538.5 644.8 L535.6 647.3 L532.8 649.8 L530.1 652.3 L527.5 654.8 L525.0 657.3 L522.5 659.8 L520.2 662.2 L518.0 664.6 L515.9 667.0 L513.9 669.4 L512.0 671.8 L510.3 674.2 L508.6 676.5 L507.1 678.8 L505.7 681.2 L504.5 683.5 L503.3 685.8 L502.3 688.1 L501.4 690.3 L500.6 692.6 L499.9 694.9 L499.4 697.1 L498.9 699.3 L498.6 701.6 L498.4 703.8 L498.3 706.0 L498.3 708.2 L498.5 710.4 L498.7 712.6 L499.0 714.8 L499.4 717.0 L499.9 719.2 L500.5 721.4 L501.2 723.6 M557.3 629.1 L559.6 631.4 L561.8 633.7 L563.8 636.0 L565.7 638.3 L567.4 640.5 L569.0 642.7 L570.4 645.0 L571.7 647.2 L572.9 649.4 L573.9 651.6 L574.8 653.8 L575.5 656.0 L576.1 658.1 L576.6 660.3 L576.9 662.5 L577.1 664.6 L577.2 666.8 L577.1 668.9 L577.0 671.1 L576.7 673.2 L576.3 675.3 L575.8 677.5 L575.2 679.6 L574.4 681.7 L573.6 683.9 L572.7 686.0 L571.8 688.2 L570.7 690.3 L569.6 692.4 L568.4 694.6 L567.1 696.8 L565.8 698.9 L564.4 701.1 L563.0 703.3 L561.5 705.4 L560.0 707.6 L558.5 709.8 L556.9 712.0 L555.4 714.2 L553.8 716.4 M517.3 629.9 L514.5 632.3 L511.8 634.7 L509.2 637.1 L506.8 639.5 L504.4 641.8 L502.2 644.1 L500.1 646.5 L498.2 648.8 L496.4 651.1 L494.7 653.3 L493.1 655.6 L491.7 657.9 L490.5 660.1 L489.3 662.3 L488.3 664.6 L487.4 666.8 L486.7 669.0 L486.1 671.2 L485.6 673.4 L485.3 675.6 L485.0 677.7 L484.9 679.9 L484.9 682.1 L485.1 684.2 L485.3 686.4 L485.7 688.5 L486.1 690.7 L486.7 692.9 L487.3 695.0 L488.0 697.2 L488.9 699.3 L489.8 701.5 L490.7 703.6 L491.8 705.8 L492.9 707.9 L494.1 710.1 L495.3 712.3 L496.6 714.4 L497.9 716.6 L499.3 718.8 M517.3 629.9 L520.5 632.4 L523.5 634.9 L526.5 637.4 L529.4 639.9 L532.2 642.4 L534.9 644.8 L537.4 647.3 L539.9 649.7 L542.3 652.1 L544.5 654.4 L546.6 656.8 L548.6 659.2 L550.4 661.5 L552.2 663.8 L553.8 666.1 L555.3 668.4 L556.6 670.7 L557.8 673.0 L558.9 675.2 L559.9 677.5 L560.7 679.7 L561.5 682.0 L562.1 684.2 L562.5 686.4 L562.9 688.6 L563.1 690.8 L563.2 693.0 L563.2 695.2 L563.1 697.4 L562.9 699.5 L562.6 701.7 L562.1 703.9 L561.6 706.0 L561.0 708.2 L560.3 710.4 L559.5 712.5 L558.7 714.7 L557.8 716.9 L556.8 719.0 L555.7 721.2 M480.0 627.6 L478.4 629.8 L477.0 632.0 L475.7 634.2 L474.5 636.4 L473.5 638.6 L472.7 640.7 L471.9 642.9 L471.4 645.0 L471.0 647.2 L470.7 649.3 L470.5 651.4 L470.5 653.6 L470.6 655.7 L470.9 657.8 L471.2 659.9 L471.7 662.1 L472.3 664.2 L473.0 666.3 L473.8 668.4 L474.7 670.6 L475.7 672.7 L476.8 674.8 L478.0 677.0 L479.2 679.1 L480.6 681.2 L481.9 683.4 L483.4 685.5 L484.9 687.7 L486.4 689.9 L488.0 692.0 L489.7 694.2 L491.3 696.4 L493.0 698.6 L494.7 700.8 L496.4 703.1 L498.1 705.3 L499.8 707.5 L501.5 709.8 L503.2 712.1 L504.9 714.4 M480.0 627.6 L483.2 630.4 L486.4 633.1 L489.5 635.8 L492.6 638.6 L495.7 641.2 L498.8 643.9 L501.8 646.6 L504.8 649.2 L507.7 651.8 L510.5 654.4 L513.3 657.0 L516.0 659.6 L518.6 662.2 L521.2 664.7 L523.6 667.2 L526.0 669.7 L528.2 672.2 L530.4 674.7 L532.5 677.1 L534.4 679.6 L536.3 682.0 L538.1 684.4 L539.7 686.8 L541.2 689.1 L542.6 691.5 L543.9 693.9 L545.1 696.2 L546.2 698.5 L547.1 700.8 L547.9 703.1 L548.6 705.4 L549.2 707.7 L549.7 710.0 L550.1 712.2 L550.4 714.5 L550.5 716.7 L550.6 719.0 L550.5 721.2 L550.3 723.4 L550.1 725.6 M455.4 622.8 L455.5 624.9 L455.7 627.0 L456.0 629.1 L456.5 631.2 L457.1 633.3 L457.8 635.4 L458.6 637.5 L459.6 639.6 L460.7 641.7 L461.9 643.8 L463.2 645.9 L464.6 648.0 L466.0 650.1 L467.6 652.3 L469.2 654.4 L470.9 656.5 L472.7 658.7 L474.5 660.9 L476.4 663.0 L478.3 665.2 L480.3 667.4 L482.3 669.6 L484.3 671.8 L486.3 674.0 L488.4 676.3 L490.4 678.5 L492.5 680.8 L494.6 683.0 L496.6 685.3 L498.6 687.6 L500.6 689.9 L502.6 692.3 L504.5 694.6 L506.4 697.0 L508.2 699.3 L510.0 701.7 L511.8 704.1 L513.5 706.5 L515.1 709.0 L516.6 711.4 M455.4 622.8 L457.8 625.8 L460.2 628.7 L462.7 631.6 L465.2 634.5 L467.8 637.4 L470.4 640.3 L473.1 643.1 L475.7 646.0 L478.4 648.8 L481.1 651.6 L483.8 654.4 L486.5 657.2 L489.2 659.9 L491.8 662.7 L494.5 665.4 L497.1 668.1 L499.7 670.8 L502.2 673.5 L504.7 676.2 L507.1 678.8 L509.5 681.5 L511.8 684.1 L514.1 686.7 L516.2 689.3 L518.3 691.9 L520.3 694.4 L522.3 696.9 L524.1 699.5 L525.8 702.0 L527.5 704.5 L529.1 706.9 L530.5 709.4 L531.9 711.8 L533.1 714.3 L534.3 716.7 L535.3 719.1 L536.2 721.5 L537.1 723.9 L537.8 726.2 L538.4 728.6 M450.2 616.9 L451.8 619.0 L453.6 621.1 L455.5 623.2 L457.5 625.3 L459.5 627.5 L461.6 629.6 L463.8 631.8 L466.0 633.9 L468.3 636.1 L470.7 638.3 L473.1 640.5 L475.5 642.7 L477.9 644.9 L480.4 647.2 L482.8 649.4 L485.3 651.7 L487.8 654.0 L490.2 656.3 L492.7 658.6 L495.1 660.9 L497.5 663.3 L499.9 665.6 L502.2 668.0 L504.5 670.4 L506.7 672.8 L508.9 675.2 L511.0 677.7 L513.0 680.1 L515.0 682.6 L516.9 685.1 L518.8 687.6 L520.5 690.1 L522.2 692.6 L523.7 695.2 L525.2 697.8 L526.6 700.3 L527.9 702.9 L529.1 705.5 L530.2 708.2 L531.2 710.8 M450.2 616.9 L451.1 619.9 L452.1 622.9 L453.2 625.9 L454.5 628.9 L455.8 631.8 L457.3 634.8 L458.9 637.8 L460.5 640.7 L462.3 643.7 L464.1 646.7 L466.0 649.6 L468.0 652.5 L470.0 655.4 L472.1 658.3 L474.2 661.2 L476.4 664.1 L478.6 667.0 L480.8 669.9 L483.0 672.7 L485.3 675.6 L487.5 678.4 L489.8 681.2 L492.0 684.0 L494.3 686.8 L496.5 689.5 L498.7 692.3 L500.8 695.0 L503.0 697.7 L505.0 700.4 L507.1 703.1 L509.1 705.8 L511.0 708.5 L512.8 711.1 L514.6 713.7 L516.4 716.4 L518.0 719.0 L519.6 721.5 L521.1 724.1 L522.5 726.7 L523.8 729.2 M465.6 611.3 L468.5 613.6 L471.4 615.8 L474.3 618.0 L477.2 620.3 L480.2 622.6 L483.1 624.9 L486.0 627.2 L488.9 629.5 L491.8 631.9 L494.7 634.3 L497.5 636.6 L500.3 639.0 L503.1 641.5 L505.8 643.9 L508.4 646.3 L511.0 648.8 L513.5 651.3 L515.9 653.8 L518.3 656.3 L520.6 658.8 L522.7 661.4 L524.8 664.0 L526.9 666.6 L528.8 669.2 L530.6 671.8 L532.3 674.4 L533.9 677.0 L535.4 679.7 L536.8 682.4 L538.1 685.1 L539.2 687.8 L540.3 690.5 L541.3 693.2 L542.1 696.0 L542.8 698.7 L543.4 701.5 L544.0 704.3 L544.4 707.0 L544.6 709.8 L544.8 712.6 M465.6 611.3 L464.8 614.3 L464.2 617.2 L463.7 620.2 L463.3 623.1 L463.1 626.1 L463.0 629.1 L463.1 632.0 L463.3 635.0 L463.7 638.0 L464.1 640.9 L464.7 643.9 L465.4 646.9 L466.2 649.9 L467.2 652.8 L468.2 655.8 L469.3 658.8 L470.6 661.7 L471.9 664.7 L473.3 667.6 L474.7 670.6 L476.3 673.5 L477.9 676.4 L479.5 679.3 L481.2 682.3 L483.0 685.2 L484.7 688.1 L486.6 690.9 L488.4 693.8 L490.3 696.7 L492.1 699.5 L494.0 702.4 L495.9 705.2 L497.7 708.0 L499.6 710.8 L501.4 713.6 L503.3 716.4 L505.0 719.2 L506.8 721.9 L508.5 724.6 L510.2 727.4 M497.7 607.7 L500.9 610.1 L504.2 612.6 L507.3 615.0 L510.4 617.5 L513.5 620.0 L516.5 622.5 L519.4 625.1 L522.2 627.6 L524.9 630.2 L527.5 632.8 L530.0 635.4 L532.5 638.0 L534.8 640.6 L537.0 643.3 L539.1 646.0 L541.1 648.7 L543.0 651.4 L544.7 654.1 L546.4 656.8 L547.9 659.6 L549.3 662.3 L550.5 665.1 L551.7 667.9 L552.7 670.7 L553.6 673.5 L554.4 676.3 L555.1 679.1 L555.6 681.9 L556.1 684.8 L556.4 687.6 L556.6 690.5 L556.7 693.4 L556.7 696.2 L556.5 699.1 L556.3 702.0 L556.0 704.9 L555.6 707.8 L555.1 710.7 L554.5 713.6 L553.8 716.4 M497.7 607.7 L495.4 610.5 L493.2 613.2 L491.2 616.1 L489.3 618.9 L487.6 621.7 L486.0 624.5 L484.6 627.4 L483.3 630.3 L482.1 633.1 L481.1 636.0 L480.2 638.9 L479.5 641.8 L478.9 644.7 L478.4 647.6 L478.1 650.5 L477.9 653.5 L477.8 656.4 L477.9 659.3 L478.0 662.3 L478.3 665.2 L478.7 668.1 L479.2 671.1 L479.8 674.0 L480.6 677.0 L481.4 679.9 L482.3 682.9 L483.2 685.8 L484.3 688.7 L485.4 691.7 L486.6 694.6 L487.9 697.5 L489.2 700.4 L490.6 703.4 L492.0 706.3 L493.5 709.2 L495.0 712.1 L496.5 714.9 L498.1 717.8 L499.6 720.7 L501.2 723.6 M537.7 606.9 L540.5 609.6 L543.2 612.2 L545.8 614.9 L548.2 617.7 L550.6 620.4 L552.8 623.1 L554.9 625.9 L556.8 628.7 L558.6 631.5 L560.3 634.3 L561.9 637.1 L563.3 639.9 L564.5 642.7 L565.7 645.6 L566.7 648.4 L567.6 651.3 L568.3 654.2 L568.9 657.1 L569.4 659.9 L569.7 662.8 L570.0 665.7 L570.1 668.7 L570.1 671.6 L569.9 674.5 L569.7 677.4 L569.3 680.3 L568.9 683.3 L568.3 686.2 L567.7 689.1 L567.0 692.0 L566.1 695.0 L565.2 697.9 L564.3 700.8 L563.2 703.8 L562.1 706.7 L560.9 709.6 L559.7 712.5 L558.4 715.4 L557.1 718.3 L555.7 721.2 M537.7 606.9 L534.5 609.4 L531.5 612.0 L528.5 614.6 L525.6 617.2 L522.8 619.8 L520.1 622.4 L517.6 625.1 L515.1 627.8 L512.7 630.5 L510.5 633.2 L508.4 635.9 L506.4 638.6 L504.6 641.3 L502.8 644.1 L501.2 646.9 L499.7 649.7 L498.4 652.5 L497.2 655.3 L496.1 658.1 L495.1 660.9 L494.3 663.8 L493.5 666.6 L492.9 669.5 L492.5 672.3 L492.1 675.2 L491.9 678.1 L491.8 681.0 L491.8 683.9 L491.9 686.8 L492.1 689.7 L492.4 692.6 L492.9 695.5 L493.4 698.4 L494.0 701.3 L494.7 704.2 L495.5 707.1 L496.3 710.1 L497.2 713.0 L498.2 715.9 L499.3 718.8 M575.0 609.2 L576.6 612.1 L578.0 614.9 L579.3 617.8 L580.5 620.7 L581.5 623.6 L582.3 626.6 L583.1 629.5 L583.6 632.4 L584.0 635.3 L584.3 638.3 L584.5 641.2 L584.5 644.2 L584.4 647.1 L584.1 650.1 L583.8 653.1 L583.3 656.0 L582.7 659.0 L582.0 661.9 L581.2 664.9 L580.3 667.8 L579.3 670.8 L578.2 673.7 L577.0 676.7 L575.8 679.6 L574.4 682.6 L573.1 685.5 L571.6 688.4 L570.1 691.3 L568.6 694.2 L567.0 697.2 L565.3 700.0 L563.7 702.9 L562.0 705.8 L560.3 708.7 L558.6 711.5 L556.9 714.4 L555.2 717.2 L553.5 720.0 L551.8 722.8 L550.1 725.6 M575.0 609.2 L571.8 611.5 L568.6 613.8 L565.5 616.2 L562.4 618.6 L559.3 621.0 L556.2 623.4 L553.2 625.8 L550.2 628.2 L547.3 630.7 L544.5 633.2 L541.7 635.6 L539.0 638.2 L536.4 640.7 L533.8 643.2 L531.4 645.8 L529.0 648.4 L526.8 651.0 L524.6 653.6 L522.5 656.2 L520.6 658.8 L518.7 661.5 L516.9 664.2 L515.3 666.9 L513.8 669.6 L512.4 672.3 L511.1 675.0 L509.9 677.8 L508.8 680.5 L507.9 683.3 L507.1 686.1 L506.4 688.9 L505.8 691.6 L505.3 694.5 L504.9 697.3 L504.6 700.1 L504.5 702.9 L504.4 705.8 L504.5 708.6 L504.7 711.5 L504.9 714.4 M599.6 614.0 L599.5 616.9 L599.3 619.9 L599.0 622.9 L598.5 625.9 L597.9 628.9 L597.2 631.9 L596.4 634.9 L595.4 637.8 L594.3 640.8 L593.1 643.8 L591.8 646.8 L590.4 649.7 L589.0 652.7 L587.4 655.6 L585.8 658.6 L584.1 661.5 L582.3 664.5 L580.5 667.4 L578.6 670.3 L576.7 673.2 L574.7 676.1 L572.7 679.0 L570.7 681.8 L568.7 684.7 L566.6 687.5 L564.6 690.4 L562.5 693.2 L560.4 696.0 L558.4 698.8 L556.4 701.6 L554.4 704.3 L552.4 707.1 L550.5 709.8 L548.6 712.5 L546.8 715.3 L545.0 718.0 L543.2 720.6 L541.5 723.3 L539.9 725.9 L538.4 728.6 M599.6 614.0 L597.2 616.1 L594.8 618.3 L592.3 620.4 L589.8 622.6 L587.2 624.8 L584.6 627.0 L581.9 629.2 L579.3 631.5 L576.6 633.7 L573.9 636.0 L571.2 638.3 L568.5 640.6 L565.8 642.9 L563.2 645.2 L560.5 647.6 L557.9 649.9 L555.3 652.3 L552.8 654.7 L550.3 657.1 L547.9 659.6 L545.5 662.0 L543.2 664.5 L540.9 666.9 L538.8 669.4 L536.7 671.9 L534.7 674.5 L532.7 677.0 L530.9 679.6 L529.2 682.1 L527.5 684.7 L525.9 687.3 L524.5 690.0 L523.1 692.6 L521.9 695.3 L520.7 697.9 L519.7 700.6 L518.8 703.3 L517.9 706.0 L517.2 708.7 L516.6 711.4" fill="none" stroke="#ffffff" stroke-width="2.6" stroke-linecap="round" stroke-linejoin="round" opacity="0.97"/>
<path d="M447.0 618.4 A80.5 12.6 0 0 0 608.0 618.4" fill="none" stroke="#e2ee6a" stroke-width="4.8" stroke-linecap="round"/>
<circle cx="619.5" cy="560.6" r="37.2" fill="url(#ball)"/>
<g fill="none" stroke="#7a2c0c" stroke-width="1.3" stroke-linecap="round" clip-path="url(#ballclip)">
<path d="M588 544 Q622 548 656 569"/>
<path d="M583 569 Q612 566 630 577 Q640 584 642 592"/>
<path d="M614 524 Q640 548 628 578 Q620 592 602 593"/>
<path d="M632 526 Q652 544 655 566"/>
</g>
</g>
<polygon points="60.3,463.8 326.5,463.8 326.5,518.3 308.3,535.6 41.3,535.6 41.3,482.8" fill="#000" stroke="#000" stroke-width="1" stroke-linejoin="miter"/>
<polygon points="60.3,460.6 326.5,460.6 326.5,515.1 308.3,532.4 41.3,532.4 41.3,479.6" fill="#ccff00" stroke="#1a1a12" stroke-width="0.9" stroke-linejoin="miter"/>
<polygon points="60.3,547.2 326.5,547.2 326.5,572.2 308.3,589.5 41.3,589.5 41.3,566.2" fill="#000" stroke="#000" stroke-width="1" stroke-linejoin="miter"/>
<polygon points="60.3,543.8 326.5,543.8 326.5,568.8 308.3,586.1 41.3,586.1 41.3,562.8" fill="#ccff00" stroke="#1a1a12" stroke-width="0.9" stroke-linejoin="miter"/>
<polygon points="60.3,600.4 326.5,600.4 326.5,661.0 308.3,674.4 41.3,674.4 41.3,619.4" fill="#000" stroke="#000" stroke-width="1" stroke-linejoin="miter"/>
<polygon points="60.3,597.0 326.5,597.0 326.5,657.6 308.3,671.0 41.3,671.0 41.3,616.0" fill="#ccff00" stroke="#1a1a12" stroke-width="0.9" stroke-linejoin="miter"/>
<line x1="379" y1="500.8" x2="401.5" y2="500.8" stroke="#f4f4f4" stroke-width="3.4"/>
<line x1="327.9" y1="500.8" x2="401.5" y2="500.8" stroke="#26262b" stroke-width="2"/>
<circle cx="401.5" cy="501.0" r="3.7" fill="#3b3b45" stroke="#e8e8ee" stroke-width="0.9"/>
<line x1="379" y1="557.9" x2="432.5" y2="557.9" stroke="#f4f4f4" stroke-width="3.4"/>
<line x1="327.9" y1="557.9" x2="432.5" y2="557.9" stroke="#26262b" stroke-width="2"/>
<circle cx="432.5" cy="558.1" r="3.7" fill="#3b3b45" stroke="#e8e8ee" stroke-width="0.9"/>
<line x1="379" y1="621.8" x2="449.4" y2="621.8" stroke="#f4f4f4" stroke-width="3.4"/>
<line x1="327.9" y1="621.8" x2="449.4" y2="621.8" stroke="#26262b" stroke-width="2"/>
<circle cx="449.4" cy="622.0" r="3.7" fill="#3b3b45" stroke="#e8e8ee" stroke-width="0.9"/>
</svg>

<div class="abs num" style="left:26px;top:36.5px;font-size:50px;">#</div>
<div class="abs num" style="left:58.9px;top:16.4px;font-size:82.5px;transform:scaleX(1.1);transform-origin:29px 50%;clip-path:polygon(0 0,0.6em 0,0.6em 0.716em,0.352em 0.716em,0.322em 0.88em,0.180em 0.88em,0.209em 0.716em,0 0.716em);">1</div>
<div class="abs h1" style="left:124.4px;top:32px;font-size:29px;letter-spacing:0.15px;">ストリートバスケをイメージした</div>
<div class="abs h1" style="left:126.5px;top:72px;font-size:40.3px;">グラフィカル</div>
<div class="abs h1" style="left:373px;top:81.5px;font-size:29.4px;">なボード</div>

<div class="abs" style="left:361px;top:173px;width:77px;height:38px;background:#000;"></div>
<div class="abs tag" style="left:371px;top:179.3px;color:#fff;font-size:27.8px;">外観</div>
<div class="abs body" style="left:362px;top:226px;letter-spacing:-0.2px;">ブラック<span class="cj" style="font-size:20px;line-height:0;margin:0 -3.6px 0 -3.6px;">×</span>ライムのスポーティーなバックボード。</div>
<div class="abs body" style="left:361.5px;top:256px;">スタイリッシュで都会感溢れる、</div>
<div class="abs body" style="left:361.5px;top:286px;letter-spacing:0.13px;">ストリートグラフィックなデザインもポイント！</div>

<div class="abs" style="left:361px;top:321px;width:105px;height:38px;background:#ccff00;"></div>
<div class="abs tag" style="left:371px;top:327.4px;color:#111;font-size:27.6px;">耐久性</div>
<div class="abs body" style="left:364px;top:374px;letter-spacing:0.26px;">ボード素材には高密度ポリエチレンを使用。</div>
<div class="abs body" style="left:362px;top:405px;letter-spacing:0.22px;">耐久性に優れ<span style="margin-right:4.5px;">、</span>長くお使いいただけます。</div>

<div class="abs lab" style="left:67.7px;top:478px;letter-spacing:2.03px;">シュートの時も邪魔にならない</div>
<div class="abs lab" style="left:67.7px;top:503px;letter-spacing:2.03px;">ダークカラーのデザインで統一</div>
<div class="abs lab" style="left:64.2px;top:558px;letter-spacing:0.5px;">ホワイトで強調したゴールコーナー</div>
<div class="abs lab" style="left:63.4px;top:614.8px;letter-spacing:1.6px;">ボードカラーに合わせた</div>
<div class="abs lab" style="left:61.5px;top:639.3px;letter-spacing:1.8px;">リムもスタイリッシュで個性的！</div>
</body>
</html>
